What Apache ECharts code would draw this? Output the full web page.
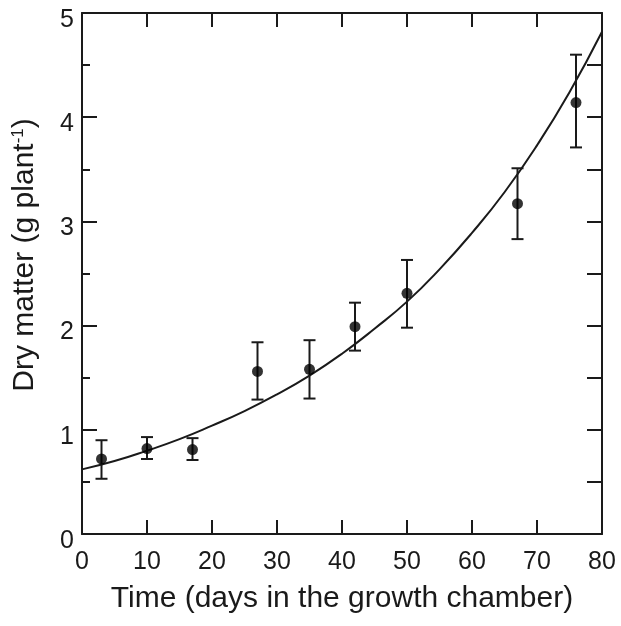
<!DOCTYPE html>
<html>
<head>
<meta charset="utf-8">
<script src="https://cdn.jsdelivr.net/npm/echarts@6/dist/echarts.min.js"></script>
<style>
html,body{margin:0;padding:0;background:#fff;}
#chart{width:621px;height:626px;}
</style>
</head>
<body>
<div id="chart"></div>
<script>
// Observed data (days, dry matter g plant^-1)
var days = [3, 10, 17, 27, 35, 42, 50, 67, 76];
var dryMatter = [0.72, 0.82, 0.81, 1.56, 1.58, 1.99, 2.31, 3.17, 4.14];
var errLow = [0.53, 0.72, 0.71, 1.29, 1.30, 1.76, 1.98, 2.83, 3.71];
var errHigh = [0.90, 0.93, 0.92, 1.84, 1.86, 2.22, 2.63, 3.51, 4.60];

// Fitted curve
var curveDays = [0, 5, 10, 15, 20, 25, 30, 35, 40, 45, 50, 55, 60, 65, 70, 75, 80];
var curveValues = [0.62, 0.70, 0.80, 0.91, 1.04, 1.18, 1.34, 1.52, 1.73, 1.97, 2.23, 2.54, 2.89, 3.28, 3.73, 4.24, 4.82];

var xTicks = [0, 10, 20, 30, 40, 50, 60, 70, 80];
var yTicks = [0, 1, 2, 3, 4, 5];

var xLabel = 'Time (days in the growth chamber)';
var yLabel = 'Dry matter (g plant{sup|-1})';

var FONT = '"Liberation Sans", Arial, sans-serif';
var INK = '#1a1a1a';

var chart = echarts.init(document.getElementById('chart'), null, {renderer: 'canvas'});

var scatterData = days.map(function (d, i) { return [d, dryMatter[i]]; });
var errData = days.map(function (d, i) { return [d, errLow[i], errHigh[i]]; });
var curveData = curveDays.map(function (d, i) { return [d, curveValues[i]]; });

var option = {
  animation: false,
  backgroundColor: '#fff',
  grid: {left: 82, right: 19, top: 13, bottom: 92, containLabel: false},
  xAxis: [{
    type: 'value', min: xTicks[0], max: xTicks[xTicks.length - 1], interval: 10,
    position: 'bottom',
    name: xLabel, nameLocation: 'middle', nameGap: 50,
    nameTextStyle: {fontFamily: FONT, fontSize: 30, color: INK},
    axisLine: {show: true, onZero: false, lineStyle: {color: INK, width: 2}},
    axisTick: {show: true, inside: true, length: 14, lineStyle: {color: INK, width: 2}},
    axisLabel: {fontFamily: FONT, fontSize: 25, color: INK, margin: 16},
    splitLine: {show: false}
  }, {
    type: 'value', min: xTicks[0], max: xTicks[xTicks.length - 1], interval: 10,
    position: 'top',
    axisLine: {show: true, onZero: false, lineStyle: {color: INK, width: 2}},
    axisTick: {show: true, inside: true, length: 14, lineStyle: {color: INK, width: 2}},
    axisLabel: {show: false},
    splitLine: {show: false}
  }],
  yAxis: [{
    type: 'value', min: yTicks[0], max: yTicks[yTicks.length - 1], interval: 1,
    position: 'left',
    axisLine: {show: true, onZero: false, lineStyle: {color: INK, width: 2}},
    axisTick: {show: true, inside: true, length: 15, lineStyle: {color: INK, width: 2}},
    minorTick: {show: true, splitNumber: 2, length: 8, lineStyle: {color: INK, width: 2}},
    axisLabel: {fontFamily: FONT, fontSize: 25, color: INK, margin: 8, verticalAlign: 'top', lineHeight: 14},
    splitLine: {show: false}
  }, {
    type: 'value', min: 0, max: 5, interval: 0.5,
    position: 'right',
    axisLine: {show: true, onZero: false, lineStyle: {color: INK, width: 2}},
    axisTick: {show: true, inside: true, length: 15, lineStyle: {color: INK, width: 2}},
    axisLabel: {show: false},
    splitLine: {show: false}
  }],
  graphic: [{
    type: 'text',
    x: 25, y: 255,
    rotation: Math.PI / 2,
    style: {
      text: yLabel,
      font: '30px ' + FONT,
      fill: INK,
      align: 'center',
      verticalAlign: 'middle',
      rich: {
        sup: {fontSize: 17, fontFamily: FONT, fill: INK, padding: [0, 0, 14, 0]}
      }
    }
  }],
  series: [{
    type: 'line',
    xAxisIndex: 0, yAxisIndex: 0,
    data: curveData,
    smooth: true,
    showSymbol: false,
    symbol: 'none',
    lineStyle: {color: INK, width: 2},
    z: 2
  }, {
    type: 'custom',
    xAxisIndex: 0, yAxisIndex: 0,
    data: errData,
    renderItem: function (params, api) {
      var x = api.value(0);
      var lo = api.coord([x, api.value(1)]);
      var hi = api.coord([x, api.value(2)]);
      var hw = 6;
      var st = {stroke: INK, lineWidth: 2};
      return {
        type: 'group',
        children: [
          {type: 'line', shape: {x1: lo[0], y1: lo[1], x2: hi[0], y2: hi[1]}, style: st},
          {type: 'line', shape: {x1: lo[0] - hw, y1: lo[1], x2: lo[0] + hw, y2: lo[1]}, style: st},
          {type: 'line', shape: {x1: hi[0] - hw, y1: hi[1], x2: hi[0] + hw, y2: hi[1]}, style: st}
        ]
      };
    },
    z: 3
  }, {
    type: 'scatter',
    xAxisIndex: 0, yAxisIndex: 0,
    data: scatterData,
    symbol: 'circle',
    symbolSize: 11,
    itemStyle: {color: '#000'},
    z: 4
  }]
};
chart.setOption(option);
</script>
</body>
</html>
